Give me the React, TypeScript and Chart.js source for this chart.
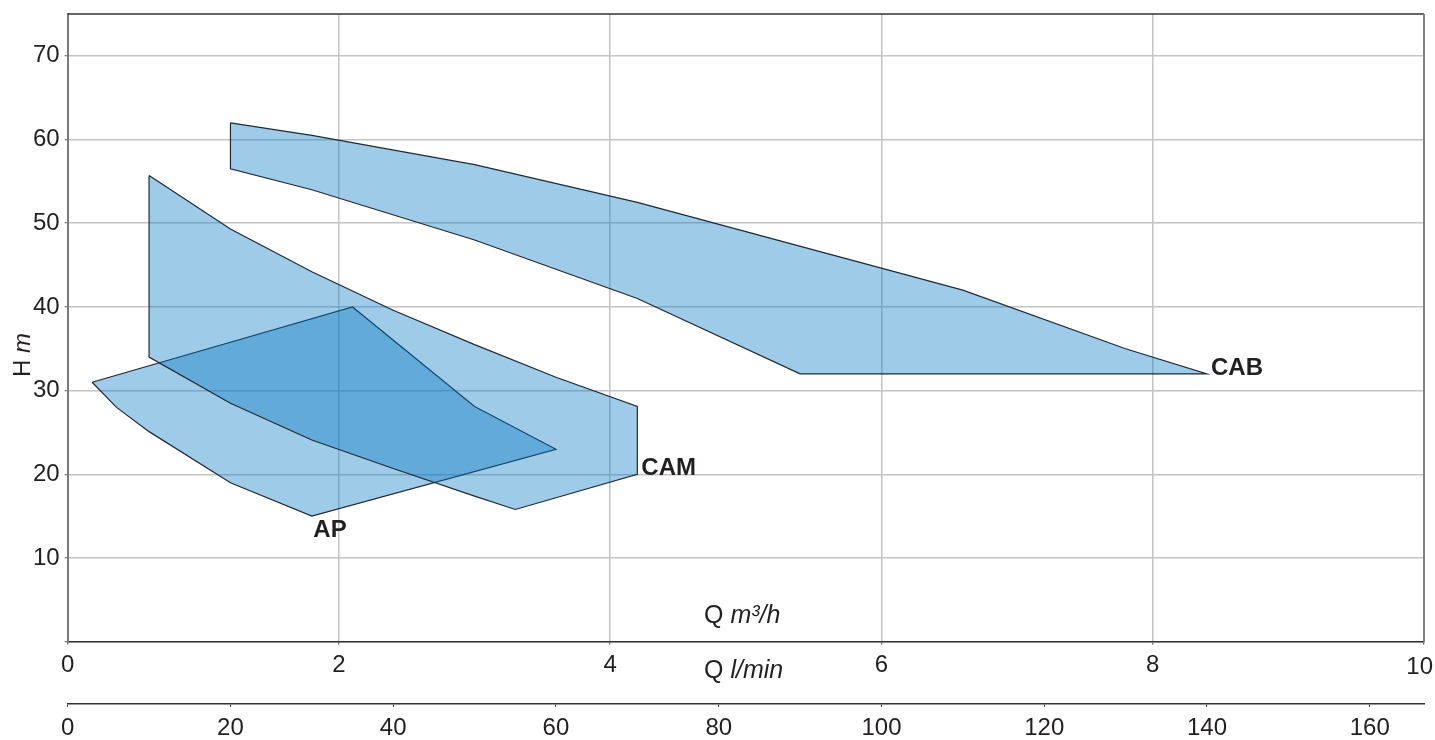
import { useEffect, useRef } from "react";
import { Chart, registerables, Plugin } from "chart.js";

Chart.register(...registerables);

// axis values
const qMaxM3h = 10;
const qMaxLmin = (qMaxM3h * 1000) / 60;
const hMax = 75;

// operating ranges, Q in m³/h, H in m (closed outlines)
const cabQ = [1.2, 1.8, 3.0, 4.2, 6.6, 7.8, 8.4, 5.4, 4.2, 3.0, 1.8, 1.2, 1.2];
const cabH = [62.0, 60.5, 57.0, 52.5, 42.0, 35.0, 32.0, 32.0, 41.0, 48.0, 54.0, 56.5, 62.0];

const camQ = [0.6, 1.2, 1.8, 2.4, 3.0, 3.6, 4.2, 4.2, 3.3, 3.0, 2.4, 1.8, 1.2, 0.6, 0.6];
const camH = [55.7, 49.3, 44.2, 39.6, 35.5, 31.6, 28.1, 20.0, 15.8, 17.4, 20.7, 24.1, 28.5, 34.0, 55.7];

const apQ = [0.18, 2.1, 3.0, 3.6, 1.8, 1.2, 0.6, 0.36, 0.18];
const apH = [31.0, 40.0, 28.1, 23.0, 15.0, 19.0, 25.1, 28.0, 31.0];

const seriesNames = ["CAB", "CAM", "AP"];
const seriesQ = [cabQ, camQ, apQ];
const seriesH = [cabH, camH, apH];
// which vertex each name is written next to
const tagVertex = [6, 7, 4];

const FONT = '"Liberation Sans", Arial, Helvetica, sans-serif';
const INK = "#231f20";
const GRID = "#c4c4c4";
const FILL = "rgba(0, 117, 194, 0.38)";
const EDGE = "#1f2a35";

type Part = [string, boolean];

function drawParts(ctx: CanvasRenderingContext2D, parts: Part[], x: number, y: number, size: number) {
  let cx = x;
  for (const [text, italic] of parts) {
    ctx.font = `${italic ? "italic " : ""}${size}px ${FONT}`;
    ctx.fillText(text, cx, y);
    cx += ctx.measureText(text).width;
  }
}

function partsWidth(ctx: CanvasRenderingContext2D, parts: Part[], size: number) {
  let w = 0;
  for (const [text, italic] of parts) {
    ctx.font = `${italic ? "italic " : ""}${size}px ${FONT}`;
    w += ctx.measureText(text).width;
  }
  return w;
}

const decorPlugin: Plugin<"scatter"> = {
  id: "decor",
  afterDraw(chart) {
    const { ctx, chartArea: a, scales } = chart;
    const x = scales.x;
    const y = scales.y;
    ctx.save();

    // top and right edge of the frame
    ctx.strokeStyle = "#333";
    ctx.lineWidth = 1.5;
    ctx.beginPath();
    ctx.moveTo(a.left, a.top);
    ctx.lineTo(a.right, a.top);
    ctx.stroke();
    ctx.strokeStyle = "#808080";
    ctx.lineWidth = 2;
    ctx.beginPath();
    ctx.moveTo(a.right, a.top);
    ctx.lineTo(a.right, a.bottom);
    ctx.stroke();

    ctx.fillStyle = INK;
    ctx.textBaseline = "alphabetic";

    // last Q m³/h label, pulled in so it stays on the page
    ctx.textAlign = "right";
    ctx.font = `24px ${FONT}`;
    ctx.fillText(String(qMaxM3h), x.getPixelForValue(qMaxM3h) + 9, x.top + 32);

    ctx.textAlign = "left";

    // y title, rotated
    const hParts: Part[] = [["H ", false], ["m", true]];
    const hw = partsWidth(ctx, hParts, 24);
    ctx.save();
    ctx.translate(21, 355);
    ctx.rotate(-Math.PI / 2);
    drawParts(ctx, hParts, -hw / 2, 8.5, 24);
    ctx.restore();

    // x titles
    drawParts(ctx, [["Q ", false], ["m³/h", true]], 704, 623, 25);
    drawParts(ctx, [["Q ", false], ["l/min", true]], 704, 678, 25);

    // range names
    ctx.font = `bold 24px ${FONT}`;
    seriesNames.forEach((name, i) => {
      const k = tagVertex[i];
      const px = x.getPixelForValue(seriesQ[i][k]);
      const py = y.getPixelForValue(seriesH[i][k]);
      if (name === "AP") ctx.fillText(name, px + 1.5, py + 21);
      else ctx.fillText(name, px + 4, py + 1);
    });

    ctx.restore();
  },
};

const tickFont = { family: FONT, size: 24 };

const App: React.FC = () => {
  const canvasRef = useRef<HTMLCanvasElement>(null);
  const chartRef = useRef<Chart<"scatter"> | null>(null);

  useEffect(() => {
    document.body.style.margin = "0";
    if (!canvasRef.current) return;
    const ctx = canvasRef.current.getContext("2d");
    if (!ctx) return;

    if (chartRef.current) chartRef.current.destroy();

    chartRef.current = new Chart(ctx, {
      type: "scatter",
      data: {
        datasets: seriesNames.map((name, i) => ({
          label: name,
          data: seriesQ[i].map((q, j) => ({ x: q, y: seriesH[i][j] })),
          showLine: true,
          fill: "shape",
          backgroundColor: FILL,
          borderColor: EDGE,
          borderWidth: 1.2,
          pointRadius: 0,
          pointHoverRadius: 0,
          tension: 0,
          xAxisID: "x",
          yAxisID: "y",
        })),
      },
      options: {
        animation: false,
        responsive: true,
        maintainAspectRatio: false,
        events: [],
        layout: { padding: { top: 14, right: 11, left: 0, bottom: 0 } },
        plugins: {
          legend: { display: false },
          tooltip: { enabled: false },
        },
        scales: {
          x: {
            type: "linear",
            position: "bottom",
            weight: 0,
            min: 0,
            max: qMaxM3h,
            ticks: {
              stepSize: 2,
              color: INK,
              font: tickFont,
              padding: 6,
              maxRotation: 0,
              autoSkip: false,
              callback: (v) => (v === qMaxM3h ? "" : String(v)),
            },
            grid: { color: GRID, lineWidth: 1.5, tickLength: 3, tickColor: "#444", tickWidth: 1 },
            border: { color: "#333", width: 1.5 },
            afterFit: (s) => {
              s.height = 62.3;
              s.paddingLeft = 0;
              s.paddingRight = 0;
            },
          },
          x2: {
            type: "linear",
            position: "bottom",
            weight: 1,
            min: 0,
            max: qMaxLmin,
            ticks: {
              stepSize: 20,
              includeBounds: false,
              color: INK,
              font: tickFont,
              padding: 7,
              maxRotation: 0,
              autoSkip: false,
            },
            grid: { drawOnChartArea: false, tickLength: 3, tickColor: "#444", tickWidth: 1 },
            border: { color: "#333", width: 1.5 },
            afterFit: (s) => {
              s.height = 36;
              s.paddingLeft = 0;
              s.paddingRight = 0;
            },
          },
          y: {
            type: "linear",
            position: "left",
            min: 0,
            max: hMax,
            ticks: {
              stepSize: 10,
              includeBounds: false,
              color: INK,
              font: tickFont,
              padding: 5,
              callback: (v) => (v === 0 ? "" : String(v)),
            },
            grid: { color: GRID, lineWidth: 1.5, tickLength: 3, tickColor: "#555", tickWidth: 1 },
            border: { color: "#7a7a7a", width: 2 },
            afterFit: (s) => {
              s.width = 67.7;
              s.paddingTop = 0;
              s.paddingBottom = 0;
            },
          },
        },
      },
      plugins: [decorPlugin],
    });

    return () => {
      if (chartRef.current) {
        chartRef.current.destroy();
        chartRef.current = null;
      }
    };
  }, []);

  return (
    <div style={{ position: "relative", width: 1435, height: 740 }}>
      <canvas ref={canvasRef}></canvas>
    </div>
  );
};

export default App;
